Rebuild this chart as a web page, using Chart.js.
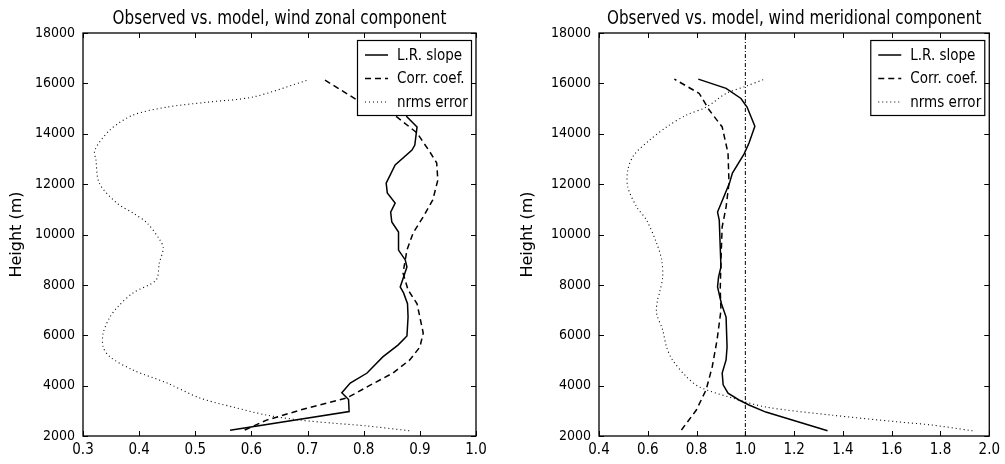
<!DOCTYPE html>
<html>
<head>
<meta charset="utf-8">
<script src="https://cdn.jsdelivr.net/npm/chart.js@4.4.0/dist/chart.umd.min.js"></script>
<style>
body { margin: 0; background: #fff; width: 1005px; height: 464px; overflow: hidden; position: relative; }
canvas { position: absolute; top: 0; }
#zonal { left: 0; }
#merid { left: 500px; }
</style>
</head>
<body>
<canvas id="zonal" width="500" height="464"></canvas>
<canvas id="merid" width="505" height="464"></canvas>
<script>

// zonal component (left panel)
const zonalSlopeH = [2230, 2970, 3450, 3720, 4100, 4500, 5140, 5610, 5970, 6720, 7250, 7680, 7920, 8310, 8710, 8990, 9380, 10100, 10500, 10890, 11250, 11650, 12040, 12760, 13350, 13550, 14270, 14670, 15200, 15700, 16100];
const zonalSlope  = [0.562, 0.774, 0.773, 0.761, 0.776, 0.806, 0.834, 0.861, 0.877, 0.879, 0.878, 0.871, 0.865, 0.871, 0.877, 0.874, 0.862, 0.862, 0.850, 0.848, 0.856, 0.842, 0.840, 0.856, 0.886, 0.891, 0.895, 0.877, 0.870, 0.850, 0.820];

const zonalCorrH = [2240, 2630, 3030, 3510, 3950, 4500, 5020, 5530, 6090, 6720, 7250, 7800, 8470, 9380, 10060, 10700, 11370, 12160, 12840, 13270, 14030, 14670, 15340, 16170];
const zonalCorr  = [0.588, 0.627, 0.687, 0.770, 0.806, 0.852, 0.882, 0.900, 0.906, 0.900, 0.895, 0.879, 0.870, 0.877, 0.888, 0.906, 0.923, 0.932, 0.930, 0.918, 0.895, 0.859, 0.788, 0.728];

const zonalNrmsH = [2210, 2400, 2510, 2630, 2830, 3150, 3510, 4100, 4620, 5140, 5530, 6090, 6720, 7130, 7680, 8190, 8870, 9460, 9780, 10460, 10850, 11250, 12040, 12960, 13350, 14150, 14740, 15060, 15250, 15460, 16130];
const zonalNrms  = [0.881, 0.805, 0.745, 0.687, 0.627, 0.567, 0.508, 0.450, 0.389, 0.348, 0.336, 0.336, 0.348, 0.362, 0.389, 0.430, 0.436, 0.443, 0.437, 0.414, 0.389, 0.360, 0.329, 0.323, 0.321, 0.348, 0.389, 0.450, 0.520, 0.603, 0.700];

// meridional component (right panel)
const meridSlopeH = [2210, 2950, 3230, 3430, 3700, 4030, 4500, 5020, 5530, 6720, 7250, 7920, 8310, 8710, 10570, 10890, 12040, 12440, 13200, 13630, 14300, 15060, 15400, 15800, 16170];
const meridSlope  = [1.337, 1.084, 1.015, 0.974, 0.929, 0.909, 0.905, 0.921, 0.925, 0.921, 0.902, 0.886, 0.890, 0.900, 0.893, 0.886, 0.935, 0.947, 0.995, 1.015, 1.039, 1.007, 0.982, 0.921, 0.807];

const meridCorrH = [2240, 3030, 3830, 4740, 5810, 7000, 7800, 8990, 10300, 11090, 12040, 13230, 14270, 14940, 15600, 16170];
const meridCorr  = [0.738, 0.799, 0.839, 0.864, 0.884, 0.900, 0.897, 0.900, 0.905, 0.921, 0.933, 0.929, 0.905, 0.852, 0.811, 0.709];

const meridNrmsH = [2210, 2440, 2560, 2830, 3150, 3510, 3950, 4360, 5020, 5530, 6210, 6880, 7400, 7680, 8310, 8990, 9660, 10570, 11090, 11880, 12560, 13150, 13750, 14270, 14740, 15060, 15600, 15890, 16170];
const meridNrms  = [1.931, 1.760, 1.626, 1.353, 1.084, 0.946, 0.811, 0.758, 0.701, 0.677, 0.661, 0.636, 0.640, 0.648, 0.661, 0.657, 0.636, 0.595, 0.555, 0.518, 0.518, 0.543, 0.608, 0.677, 0.758, 0.840, 0.921, 1.003, 1.080];

const refLineX = [1.0, 1.0];
const refLineH = [2000, 18000];

const legendLabels = ['L.R. slope', 'Corr. coef.', 'nrms error'];
const yLabel = 'Height (m)';

const condFont = "'DejaVu Sans Condensed', 'DejaVu Sans', sans-serif";

const toPoints = (xs, hs) => xs.map((x, i) => ({x: x, y: hs[i]}));

const styles = [
    {borderDash: [], borderWidth: 1.5},
    {borderDash: [6, 4], borderWidth: 1.5},
    {borderDash: [1, 3], borderWidth: 1.1},
];

const panelPlugin = {
    id: 'panel',
    afterDatasetsDraw(chart, args, opts) {
        const {ctx, chartArea: a, scales} = chart;
        ctx.save();
        ctx.setLineDash([]);
        ctx.strokeStyle = '#000';

        // frame + inward ticks
        ctx.lineWidth = 1.3;
        ctx.strokeRect(a.left, a.top, a.right - a.left, a.bottom - a.top);
        ctx.lineWidth = 1;
        ctx.beginPath();
        scales.x.ticks.forEach(t => {
            const px = Math.round(scales.x.getPixelForValue(t.value)) + 0.5;
            ctx.moveTo(px, a.bottom); ctx.lineTo(px, a.bottom - 5);
            ctx.moveTo(px, a.top); ctx.lineTo(px, a.top + 5);
        });
        scales.y.ticks.forEach(t => {
            const py = Math.round(scales.y.getPixelForValue(t.value)) + 0.5;
            ctx.moveTo(a.left, py); ctx.lineTo(a.left + 5, py);
            ctx.moveTo(a.right, py); ctx.lineTo(a.right - 5, py);
        });
        ctx.stroke();

        // legend box
        const w = 114, h = 75;
        const lx = a.right - 5 - w, ly = a.top + 7;
        ctx.fillStyle = '#fff';
        ctx.fillRect(lx, ly, w, h);
        ctx.lineWidth = 1.2;
        ctx.strokeRect(lx + 0.5, ly + 0.5, w, h);
        ctx.font = '15px ' + condFont;
        ctx.textBaseline = 'middle';
        ctx.textAlign = 'left';
        legendLabels.forEach((lab, i) => {
            const yy = ly + 15 + i * 23.5;
            ctx.beginPath();
            ctx.setLineDash(styles[i].borderDash);
            ctx.lineWidth = styles[i].borderWidth;
            ctx.moveTo(lx + 8, yy); ctx.lineTo(lx + 31, yy);
            ctx.stroke();
            ctx.fillStyle = '#000';
            ctx.fillText(lab, lx + 40, yy + 1);
        });
        ctx.setLineDash([]);

        // title (slightly narrowed like the original) and y label
        ctx.fillStyle = '#000';
        ctx.textAlign = 'center';
        ctx.textBaseline = 'alphabetic';
        ctx.font = '19px ' + condFont;
        ctx.save();
        ctx.translate((a.left + a.right) / 2, 24);
        ctx.scale(0.89, 1);
        ctx.fillText(opts.title, 0, 0);
        ctx.restore();

        ctx.font = '16px DejaVu Sans, sans-serif';
        ctx.translate(opts.labelX, (a.top + a.bottom) / 2);
        ctx.rotate(-Math.PI / 2);
        ctx.textBaseline = 'middle';
        ctx.fillText(yLabel, 0, 0);
        ctx.restore();
    }
};

const makePanel = (id, p) => {
    const datasets = [
        {data: toPoints(p.slope, p.slopeH), ...styles[0], tension: 0},
        {data: toPoints(p.corr, p.corrH), ...styles[1], tension: 0},
        {data: toPoints(p.nrms, p.nrmsH), ...styles[2], tension: 0.3},
    ];
    if (p.ref) {
        datasets.push({data: toPoints(refLineX, refLineH), borderDash: [4, 2, 1, 2], borderWidth: 1, tension: 0});
    }
    datasets.forEach(d => {
        d.showLine = true;
        d.borderColor = '#000';
        d.backgroundColor = '#000';
        d.pointRadius = 0;
        d.fill = false;
    });

    return new Chart(document.getElementById(id), {
        type: 'scatter',
        data: {datasets},
        plugins: [panelPlugin],
        options: {
            responsive: false,
            animation: false,
            devicePixelRatio: 1,
            layout: {padding: {top: 33, right: p.padRight, left: 0, bottom: 0}},
            plugins: {
                legend: {display: false},
                tooltip: {enabled: false},
                panel: {title: p.title, labelX: p.labelX},
            },
            scales: {
                x: {
                    type: 'linear',
                    min: p.xMin, max: p.xMax,
                    afterFit: s => { s.height = 28; },
                    grid: {display: false, drawTicks: false},
                    border: {display: false},
                    ticks: {
                        stepSize: p.xStep,
                        padding: 5,
                        color: '#000',
                        font: {family: condFont, size: 15},
                        callback: v => v.toFixed(1),
                    },
                },
                y: {
                    type: 'linear',
                    min: 2000, max: 18000,
                    afterFit: s => { s.width = p.yWidth; },
                    grid: {display: false, drawTicks: false},
                    border: {display: false},
                    ticks: {
                        stepSize: 2000,
                        padding: 8,
                        color: '#000',
                        font: {family: condFont, size: 14},
                        callback: v => String(v),
                    },
                },
            },
        },
    });
};

makePanel('zonal', {
    title: 'Observed vs. model, wind zonal component',
    slope: zonalSlope, slopeH: zonalSlopeH,
    corr: zonalCorr, corrH: zonalCorrH,
    nrms: zonalNrms, nrmsH: zonalNrmsH,
    xMin: 0.3, xMax: 1.0, xStep: 0.1,
    yWidth: 83, padRight: 24, labelX: 17,
    ref: false,
});

makePanel('merid', {
    title: 'Observed vs. model, wind meridional component',
    slope: meridSlope, slopeH: meridSlopeH,
    corr: meridCorr, corrH: meridCorrH,
    nrms: meridNrms, nrmsH: meridNrmsH,
    xMin: 0.4, xMax: 2.0, xStep: 0.2,
    yWidth: 99, padRight: 13, labelX: 28,
    ref: true,
});
</script>
</body>
</html>
